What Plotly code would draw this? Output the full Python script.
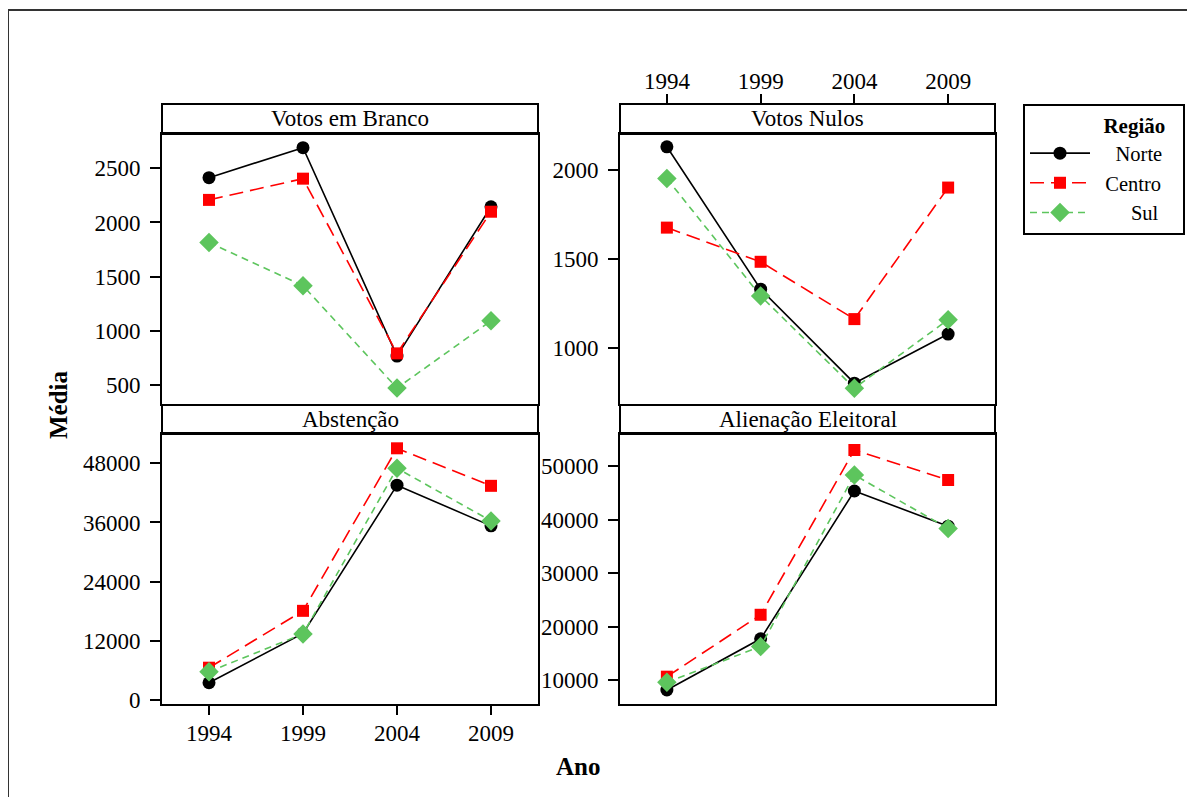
import plotly.graph_objects as go

# page body has an 8px margin; figure coordinates are offset accordingly
OFF = 8
W, H = 1179, 789

NB = "\u00a0"
ZW = "\u200b"
years = [1994, 1999, 2004, 2009]
regions = ["Norte", "Centro", "Sul"]
legend_labels = [NB * 4 + "Norte" + NB * 3 + ZW,
                 NB * 2 + "Centro" + NB * 3 + ZW,
                 NB * 7 + "Sul" + NB * 3 + ZW]
panels = ["Votos em Branco", "Votos Nulos", "Abstenção", "Alienação Eleitoral"]

branco_norte = [2413, 2690, 767, 2145]
branco_centro = [2208, 2404, 792, 2099]
branco_sul = [1815, 1417, 472, 1092]

nulos_norte = [2131, 1331, 803, 1079]
nulos_centro = [1677, 1485, 1163, 1902]
nulos_sul = [1953, 1293, 775, 1160]

abst_norte = [3500, 13500, 43560, 35310]
abst_centro = [6550, 18080, 51040, 43430]
abst_sul = [5740, 13400, 46990, 36320]

alien_norte = [8130, 17700, 45330, 38750]
alien_centro = [10620, 22190, 52990, 47380]
alien_sul = [9570, 16260, 48320, 38320]

yticks = [
    [500, 1000, 1500, 2000, 2500],
    [1000, 1500, 2000],
    [0, 12000, 24000, 36000, 48000],
    [10000, 20000, 30000, 40000, 50000],
]
yranges = [[325, 2816], [686, 2203], [-811, 53940], [5514, 55981]]

data = [
    [branco_norte, branco_centro, branco_sul],
    [nulos_norte, nulos_centro, nulos_sul],
    [abst_norte, abst_centro, abst_sul],
    [alien_norte, alien_centro, alien_sul],
]

FONT = "Liberation Serif, Times New Roman, serif"
FS = 23
colors = ["#000000", "#FF0000", "#5DC55D"]
dashes = ["solid", "14px,7px", "7px,5px"]
symbols = ["circle", "square", "diamond"]
msizes = [13, 12, 15]

# panel geometry in page pixels: (x0, x1, ytop_strip, ytop_plot, ybottom)
geo = [
    (162, 538, 104, 134, 404),
    (620, 995, 104, 134, 404),
    (162, 538, 405, 434, 704),
    (620, 995, 405, 434, 704),
]

def px(x):
    return (x - OFF) / W

def py(y):
    return 1 - (y - OFF) / H

fig = go.Figure()

for i in range(4):
    ax = "" if i == 0 else str(i + 1)
    for j, reg in enumerate(regions):
        fig.add_trace(go.Scatter(
            x=years, y=data[i][j], mode="lines+markers", name=legend_labels[j],
            showlegend=(i == 0),
            line=dict(color=colors[j], width=1.6, dash=dashes[j]),
            marker=dict(color=colors[j], symbol=symbols[j], size=msizes[j]),
            xaxis="x" + ax, yaxis="y" + ax,
        ))

# empty trace holding the top year axis of the upper-right panel
fig.add_trace(go.Scatter(x=[], y=[], xaxis="x5", yaxis="y2", showlegend=False,
                         hoverinfo="skip"))

layout = dict(
    width=W, height=H, autosize=False,
    margin=dict(l=0, r=0, t=0, b=0, pad=0),
    paper_bgcolor="white", plot_bgcolor="white",
    font=dict(family=FONT, size=FS, color="black"),
    showlegend=True,
    legend=dict(
        x=px(1023), y=py(104), xanchor="left", yanchor="top",
        bordercolor="black", borderwidth=2, bgcolor="white",
        font=dict(family=FONT, size=20.5),
        title=dict(text="<b>Região</b>" + NB * 3 + ZW, side="top right",
                   font=dict(family=FONT, size=21)),
        itemwidth=60, tracegroupgap=0,
    ),
)

shapes = []
annotations = []
for i in range(4):
    x0, x1, ys, yp, yb = geo[i]
    ax = "" if i == 0 else str(i + 1)
    show_x = (i == 2)
    layout["xaxis" + ax] = dict(
        domain=[px(x0), px(x1)], anchor="y" + ax,
        range=[1991.5, 2011.5], automargin=False,
        tickvals=years, ticktext=[str(y) for y in years],
        showticklabels=show_x, ticks="outside" if show_x else "",
        ticklen=9, tickwidth=2, tickcolor="black", ticklabelstandoff=-2,
        showline=True, mirror=True, linecolor="black", linewidth=2,
        showgrid=False, zeroline=False,
        tickfont=dict(family=FONT, size=FS),
    )
    layout["yaxis" + ax] = dict(
        domain=[py(yb), py(yp)], anchor="x" + ax, automargin=False,
        range=yranges[i], tickvals=yticks[i], tickformat="d",
        ticks="outside", ticklen=10, tickwidth=2, tickcolor="black",
        ticklabelstandoff=5,
        showline=True, mirror=True, linecolor="black", linewidth=2,
        showgrid=False, zeroline=False,
        tickfont=dict(family=FONT, size=FS),
    )
    shapes.append(dict(type="rect", xref="paper", yref="paper", layer="below",
                       x0=px(x0), x1=px(x1), y0=py(yp), y1=py(ys),
                       line=dict(color="black", width=2), fillcolor="white"))
    annotations.append(dict(text=panels[i], xref="paper", yref="paper",
                            x=px((x0 + x1) / 2), y=py((ys + yp) / 2),
                            xanchor="center", yanchor="middle", showarrow=False,
                            font=dict(family=FONT, size=FS)))

x0, x1, ys, yp, yb = geo[1]
layout["xaxis5"] = dict(
    overlaying="x2", anchor="free", position=py(ys), side="top", automargin=False,
    range=[1991.5, 2011.5], tickvals=years, ticktext=[str(y) for y in years],
    ticks="outside", ticklen=10, tickwidth=2, tickcolor="black",
    ticklabelstandoff=-4,
    showline=False, showgrid=False, zeroline=False,
    tickfont=dict(family=FONT, size=FS),
)

# outer frame: only its top and left edges fall inside the page
shapes.append(dict(type="line", xref="paper", yref="paper", layer="below",
                   x0=px(8), x1=px(1300), y0=py(10), y1=py(10),
                   line=dict(color="#333333", width=2)))
shapes.append(dict(type="line", xref="paper", yref="paper", layer="below",
                   x0=px(8), x1=px(8), y0=py(10), y1=py(900),
                   line=dict(color="#333333", width=2)))

annotations.append(dict(text="<b>Média</b>", xref="paper", yref="paper",
                        x=px(58), y=py(405), textangle=-90, showarrow=False,
                        xanchor="center", yanchor="middle",
                        font=dict(family=FONT, size=25)))
annotations.append(dict(text="<b>Ano</b>", xref="paper", yref="paper",
                        x=px(578), y=py(766), showarrow=False,
                        xanchor="center", yanchor="middle",
                        font=dict(family=FONT, size=25)))

layout["shapes"] = shapes
layout["annotations"] = annotations
fig.update_layout(**layout)
fig.write_html("out.html")
